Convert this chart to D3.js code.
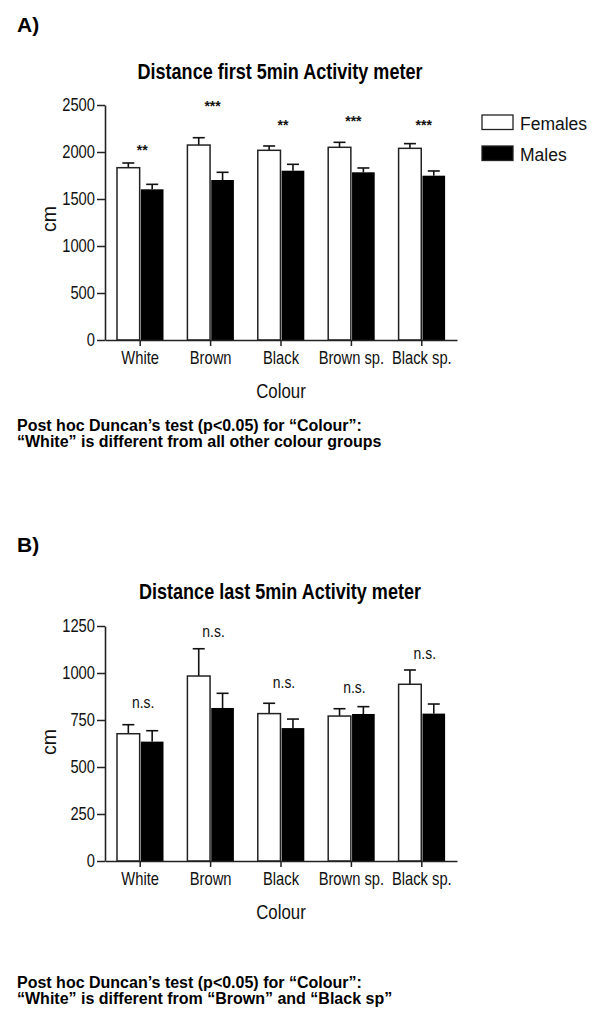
<!DOCTYPE html>
<html>
<head>
<meta charset="utf-8">
<script src="https://cdn.jsdelivr.net/npm/d3@7"></script>
<style>
  html, body { margin: 0; padding: 0; background: #fff; }
  svg { display: block; }
</style>
</head>
<body>
<svg id="chart" width="600" height="1017"></svg>
<script>
// ---------------- DATA ----------------
const categories = ["White", "Brown", "Black", "Brown sp.", "Black sp."];
const seriesNames = ["Females", "Males"];

// Panel A: Distance first 5min
const firstFemales    = [1833, 2074, 2018, 2050, 2039];
const firstFemalesErr = [50, 78, 46, 53, 50];
const firstMales      = [1603, 1702, 1801, 1784, 1748];
const firstMalesErr   = [53, 82, 68, 46, 50];
const firstSig        = ["**", "***", "**", "***", "***"];
const firstSigLevel   = [1964, 2432, 2234, 2272, 2230];
const firstTicks      = [0, 500, 1000, 1500, 2000, 2500];

// Panel B: Distance last 5min
const lastFemales    = [677, 984, 784, 771, 940];
const lastFemalesErr = [48, 145, 55, 39, 76];
const lastMales      = [635, 814, 707, 782, 784];
const lastMalesErr   = [58, 78, 48, 39, 51];
const lastSig        = ["n.s.", "n.s.", "n.s.", "n.s.", "n.s."];
const lastSigLevel   = [816, 1191, 918, 893, 1077];
const lastTicks      = [0, 250, 500, 750, 1000, 1250];

const panelLabels = ["A)", "B)"];
const titles = ["Distance first 5min Activity meter", "Distance last 5min Activity meter"];
const xTitle = "Colour";
const yTitle = "cm";
const notesA = ["Post hoc Duncan\u2019s test (p<0.05) for \u201cColour\u201d:",
                "\u201cWhite\u201d is different from all other colour groups"];
const notesB = ["Post hoc Duncan\u2019s test (p<0.05) for \u201cColour\u201d:",
                "\u201cWhite\u201d is different from \u201cBrown\u201d and \u201cBlack sp\u201d"];

// ---------------- STYLE ----------------
const REG = "'Liberation Sans', Arial, sans-serif";
const NARROW = "'Liberation Sans Narrow', 'Arial Narrow', 'Liberation Sans', sans-serif";
const AXIS_COLOR = "#222";

const svg = d3.select("#chart");

function measure(family, txt, size, weight) {
  const t = svg.append("text").attr("font-family", family).attr("font-size", size)
    .attr("font-weight", weight || "normal").text(txt);
  const w = t.node().getComputedTextLength();
  t.remove();
  return w;
}
const narrowOK = measure(NARROW, "Brown Black", 20) / measure(REG, "Brown Black", 20) < 0.9;

function narrow(sel) {
  sel.attr("font-family", narrowOK ? NARROW : REG);
  if (!narrowOK) {
    sel.each(function () {
      const t = d3.select(this);
      const x = +t.attr("x") || 0;
      t.attr("transform", `translate(${x},0) scale(0.82,1) translate(${-x},0)`);
    });
  }
  return sel;
}

function drawPanel(cfg) {
  const g = svg.append("g");
  const y = d3.scaleLinear().domain([0, cfg.ticks[cfg.ticks.length - 1]])
    .range([cfg.yBottom, cfg.yTop]);
  const x = d3.scaleBand().domain(categories).range([105, 457]).padding(0);
  const xs = d3.scaleBand().domain(seriesNames).range([12, 58.5]).paddingInner(0.05);

  g.append("text").attr("x", 17).attr("y", cfg.labelY)
    .attr("font-family", REG).attr("font-weight", "bold").attr("font-size", 21)
    .text(cfg.label);

  narrow(g.append("text").attr("x", 280).attr("y", cfg.titleY)
    .attr("text-anchor", "middle").attr("font-weight", "bold").attr("font-size", 22)
    .text(cfg.title));

  const rows = categories.map((c, i) => ({
    c, vals: [
      { s: "Females", v: cfg.f[i], e: cfg.fe[i] },
      { s: "Males", v: cfg.m[i], e: cfg.me[i] }
    ]
  }));
  const grp = g.selectAll("g.cat").data(rows).join("g")
    .attr("class", "cat").attr("transform", d => `translate(${x(d.c)},0)`);

  grp.selectAll("g.err").data(d => d.vals).join("g").attr("class", "err")
    .each(function (d) {
      const cx = xs(d.s) + xs.bandwidth() / 2;
      const e = d3.select(this);
      e.append("line").attr("x1", cx).attr("x2", cx)
        .attr("y1", y(d.v)).attr("y2", y(d.v + d.e))
        .attr("stroke", "#111").attr("stroke-width", 1.6);
      e.append("line").attr("x1", cx - 6).attr("x2", cx + 6)
        .attr("y1", y(d.v + d.e)).attr("y2", y(d.v + d.e))
        .attr("stroke", "#111").attr("stroke-width", 1.6);
    });

  grp.selectAll("rect").data(d => d.vals).join("rect")
    .attr("x", d => xs(d.s))
    .attr("width", xs.bandwidth())
    .attr("y", d => y(d.v))
    .attr("height", d => y(0) - y(d.v))
    .attr("fill", d => d.s === "Females" ? "#fff" : "#000")
    .attr("stroke", d => d.s === "Females" ? "#222" : "none")
    .attr("stroke-width", 1.5);

  const sig = g.selectAll("text.sig").data(categories).join("text")
    .attr("class", "sig")
    .attr("x", (c) => x(c) + x.bandwidth() / 2 + cfg.sigDx)
    .attr("y", (c, i) => y(cfg.sigLevel[i]))
    .attr("text-anchor", "middle")
    .attr("font-size", cfg.sigSize)
    .attr("font-weight", cfg.sigWeight)
    .attr("fill", "#111")
    .text((c, i) => cfg.sig[i]);
  if (cfg.sigNarrow) narrow(sig); else sig.attr("font-family", REG);

  const yAxis = d3.axisLeft(y).tickValues(cfg.ticks).tickSize(8).tickPadding(2).tickSizeOuter(0)
    .tickFormat(d3.format("d"));
  const ya = g.append("g").attr("transform", "translate(105,0)").call(yAxis);
  const xAxis = d3.axisBottom(x).tickSize(6).tickPadding(5).tickSizeOuter(0);
  const xa = g.append("g").attr("transform", `translate(0,${cfg.yBottom})`).call(xAxis);
  [ya, xa].forEach(a => {
    a.select(".domain").attr("stroke", AXIS_COLOR).attr("stroke-width", 1.6);
    a.selectAll(".tick line").attr("stroke", AXIS_COLOR).attr("stroke-width", 1.5);
    a.selectAll(".tick text").attr("fill", "#111").attr("font-size", 18);
    narrow(a.selectAll(".tick text"));
  });

  narrow(g.append("text").attr("x", 281).attr("y", cfg.yBottom + 58)
    .attr("text-anchor", "middle").attr("font-size", 20.5).attr("fill", "#111").text(xTitle));
  g.append("text").attr("transform", `translate(${56},${cfg.cmY}) rotate(-90)`)
    .attr("text-anchor", "middle").attr("font-family", REG).attr("font-size", 19.5)
    .attr("fill", "#111").text(yTitle);

  g.selectAll("text.note").data(cfg.notes).join("text").attr("class", "note")
    .attr("x", 17).attr("y", (d, i) => cfg.noteY[i])
    .attr("font-family", REG).attr("font-weight", "bold").attr("font-size", 16)
    .text(d => d);

  if (cfg.legend) {
    const lg = g.append("g");
    const ly = d3.scaleBand().domain(seriesNames).range([114, 176]).paddingInner(0);
    lg.selectAll("rect").data(seriesNames).join("rect")
      .attr("x", 482).attr("y", d => ly(d) + 1).attr("width", 31).attr("height", 14.5)
      .attr("fill", d => d === "Females" ? "#fff" : "#000")
      .attr("stroke", "#222").attr("stroke-width", 1.3);
    lg.selectAll("text").data(seriesNames).join("text")
      .attr("x", 520).attr("y", d => ly(d) + 16)
      .attr("font-family", REG).attr("font-size", 17.5).attr("fill", "#111")
      .text(d => d);
  }
}

drawPanel({
  label: panelLabels[0], labelY: 32, title: titles[0], titleY: 79,
  yTop: 105, yBottom: 340, ticks: firstTicks,
  f: firstFemales, fe: firstFemalesErr, m: firstMales, me: firstMalesErr,
  sig: firstSig, sigLevel: firstSigLevel, sigSize: 14, sigWeight: "bold", sigDx: 2, sigNarrow: false,
  cmY: 219, notes: notesA, noteY: [431, 447], legend: true
});
drawPanel({
  label: panelLabels[1], labelY: 552, title: titles[1], titleY: 599,
  yTop: 626, yBottom: 861, ticks: lastTicks,
  f: lastFemales, fe: lastFemalesErr, m: lastMales, me: lastMalesErr,
  sig: lastSig, sigLevel: lastSigLevel, sigSize: 17, sigWeight: "normal", sigDx: 3, sigNarrow: true,
  cmY: 742, notes: notesB, noteY: [988, 1004], legend: false
});
</script>
</body>
</html>
